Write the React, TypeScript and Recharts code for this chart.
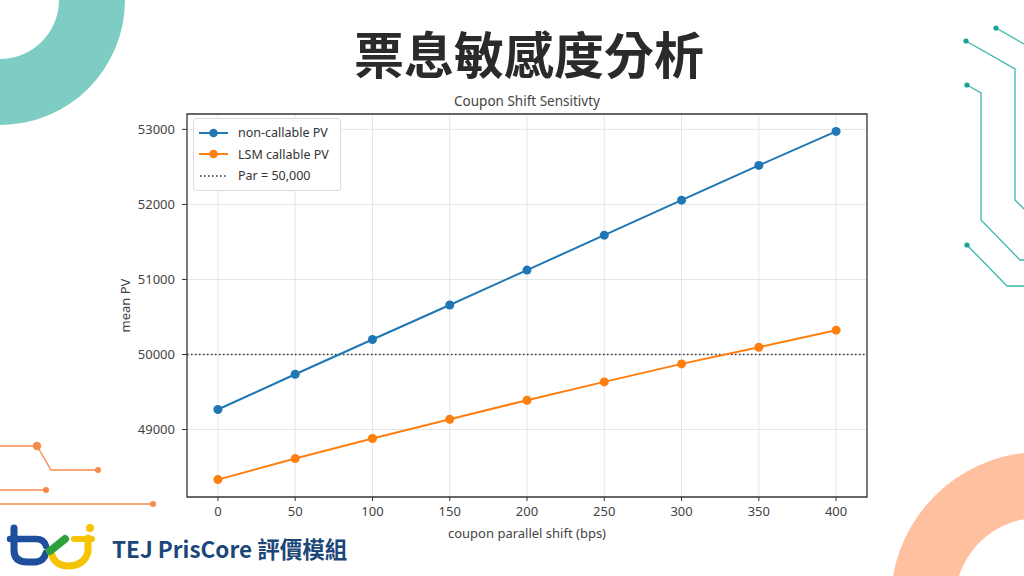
import React from 'react';
import { LineChart, Line, XAxis, YAxis, CartesianGrid, ReferenceLine, ReferenceArea, Legend } from 'recharts';

const shifts = [0, 50, 100, 150, 200, 250, 300, 350, 400];
const nonCallablePV = [49267, 49737, 50200, 50660, 51125, 51590, 52057, 52520, 52973];
const lsmCallablePV = [48333, 48613, 48880, 49137, 49391, 49635, 49875, 50097, 50324];
const parValue = 50000;

const xTicks = [0, 50, 100, 150, 200, 250, 300, 350, 400];
const yTicks = [49000, 50000, 51000, 52000, 53000];
const xDomain = [-20, 420];
const yDomain = [48101, 53205];

const BLUE = '#1f77b4';
const ORANGE = '#ff7f0e';
const FONT = '"Noto Sans", "Open Sans", sans-serif';
const CJK = '"Noto Sans CJK TC", "Noto Sans CJK SC", sans-serif';

const legendItems = [
  { name: 'non-callable PV', color: BLUE, dotted: false },
  { name: 'LSM callable PV', color: ORANGE, dotted: false },
  { name: 'Par = 50,000', color: '#333', dotted: true },
];

const data = shifts.map((s, i) => ({
  shift: s,
  nonCallable: nonCallablePV[i],
  lsmCallable: lsmCallablePV[i],
}));

const LegendBox = () => (
  <div
    style={{
      border: '1px solid #dcdcdc',
      borderRadius: 3,
      background: 'rgba(255,255,255,0.9)',
      padding: '3px 8px 3px 5px',
      fontFamily: FONT,
      fontSize: 12.5,
      color: '#333',
      width: 133,
    }}
  >
    {legendItems.map((item) => (
      <div key={item.name} style={{ display: 'flex', alignItems: 'center', height: 21.5 }}>
        <svg width={29} height={10} style={{ flex: 'none' }}>
          {item.dotted ? (
            <line x1={1} y1={5} x2={28} y2={5} stroke={item.color} strokeWidth={1.5} strokeDasharray="1.5 2.5" />
          ) : (
            <>
              <line x1={0} y1={5} x2={29} y2={5} stroke={item.color} strokeWidth={2} />
              <circle cx={14.5} cy={5} r={4.3} fill={item.color} />
            </>
          )}
        </svg>
        <span style={{ marginLeft: 10, whiteSpace: 'nowrap' }}>{item.name}</span>
      </div>
    ))}
  </div>
);

const Decorations = () => (
  <svg width={1024} height={576} style={{ position: 'absolute', left: 0, top: 0 }}>
    {/* teal ring top-left */}
    <path d="M 125 0 A 125 125 0 0 1 0 125 L 0 59 A 59 59 0 0 0 59 0 Z" fill="#7ecdc4" />
    {/* peach ring bottom-right */}
    <path
      d="M 1042 452 A 150 150 0 0 0 893 576 L 959 576 A 84 84 0 0 1 1042 518 Z"
      fill="#ffc09f"
    />
    {/* teal circuit lines */}
    <g stroke="#3bb8ab" strokeWidth={1.3} fill="none">
      <polyline points="996,28 1024,44" />
      <polyline points="966,41 1015,69 1015,200 1024,209" />
      <polyline points="967,85 981,93 981,220 1020,260 1024,260" />
      <polyline points="967,245 1007,286 1024,286" />
    </g>
    <g fill="#16a394">
      <circle cx={996} cy={28} r={2.6} />
      <circle cx={966} cy={41} r={2.6} />
      <circle cx={967} cy={85} r={2.6} />
      <circle cx={967} cy={245} r={2.6} />
    </g>
    {/* orange circuit lines */}
    <g stroke="#f7894a" strokeWidth={1.3} fill="none">
      <polyline points="0,446 37,446 51,470 98,470" />
      <polyline points="0,490 46,490" />
      <polyline points="0,504 153,504" />
    </g>
    <g fill="#f7894a">
      <circle cx={37} cy={446} r={4.2} />
      <circle cx={98} cy={470} r={3} />
      <circle cx={46} cy={490} r={3} />
      <circle cx={153} cy={504} r={3} />
    </g>
    {/* tej logo */}
    <g fill="none" strokeLinecap="round" strokeLinejoin="round">
      <path d="M 14 528 L 14 550 Q 14 562 27 562 L 36 562 Q 44 561 46 553" stroke="#1d4f9c" strokeWidth={7} />
      <path d="M 10 539 L 36 539 Q 44 539 46 546" stroke="#1d4f9c" strokeWidth={6.5} />
      <path d="M 51 553 Q 55 566 68 566 Q 84 566 88 552 L 88 538" stroke="#f5c300" strokeWidth={7} />
      <path d="M 74 539 L 92 539" stroke="#f5c300" strokeWidth={6} />
      <line x1={50} y1={551} x2={65} y2={539} stroke="#2ea23a" strokeWidth={8} />
    </g>
    <circle cx={90} cy={528} r={4} fill="#f5c300" />
  </svg>
);

export default function App() {
  return (
    <div
      style={{
        position: 'absolute',
        left: 0,
        top: 0,
        width: 1024,
        height: 576,
        background: '#ffffff',
        overflow: 'hidden',
      }}
    >
      <Decorations />
      <div
        style={{
          position: 'absolute',
          left: 0,
          top: 22,
          width: 1058,
          textAlign: 'center',
          fontFamily: CJK,
          fontWeight: 700,
          fontSize: 50,
          lineHeight: '60px',
          color: '#2a2a2a',
        }}
      >
        票息敏感度分析
      </div>
      <div
        style={{
          position: 'absolute',
          left: 0,
          top: 91,
          width: 1054,
          textAlign: 'center',
          fontFamily: FONT,
          fontSize: 13.5,
          lineHeight: '20px',
          color: '#444',
        }}
      >
        Coupon Shift Sensitivty
      </div>
      <div
        style={{
          position: 'absolute',
          left: 112,
          top: 533,
          fontFamily: CJK,
          fontWeight: 700,
          fontSize: 22.5,
          lineHeight: '30px',
          color: '#1b4678',
          whiteSpace: 'nowrap',
        }}
      >
        TEJ PrisCore 評價模組
      </div>
      <div style={{ position: 'absolute', left: 0, top: 0 }}>
        <LineChart
          width={1024}
          height={576}
          data={data}
          margin={{ top: 114, right: 157, bottom: 49, left: 127 }}
        >
          <CartesianGrid stroke="#e6e6e6" strokeWidth={1} />
          <XAxis
            dataKey="shift"
            type="number"
            domain={xDomain}
            ticks={xTicks}
            height={30}
            axisLine={false}
            tickLine={{ stroke: '#333' }}
            tickSize={4}
            tickMargin={6}
            tick={{ fill: '#444', fontSize: 13, fontFamily: FONT }}
            label={{
              value: 'coupon parallel shift (bps)',
              position: 'insideBottom',
              offset: -11,
              fill: '#444',
              fontSize: 13,
              fontFamily: FONT,
            }}
          />
          <YAxis
            type="number"
            domain={yDomain}
            ticks={yTicks}
            width={60}
            axisLine={false}
            tickLine={{ stroke: '#333' }}
            tickSize={5}
            tickMargin={7}
            tick={{ fill: '#444', fontSize: 13, fontFamily: FONT }}
            allowDataOverflow
            label={{
              value: 'mean PV',
              angle: -90,
              position: 'insideLeft',
              offset: -2,
              fill: '#444',
              fontSize: 13,
              fontFamily: FONT,
              style: { textAnchor: 'middle' },
            }}
          />
          <ReferenceLine
            y={parValue}
            stroke="#333"
            strokeWidth={1.5}
            strokeDasharray="1.5 2.5"
          />
          <Line
            dataKey="nonCallable"
            name="non-callable PV"
            stroke={BLUE}
            strokeWidth={2}
            dot={{ r: 4.5, fill: BLUE, stroke: BLUE, strokeWidth: 0 }}
            activeDot={false}
            isAnimationActive={false}
          />
          <Line
            dataKey="lsmCallable"
            name="LSM callable PV"
            stroke={ORANGE}
            strokeWidth={2}
            dot={{ r: 4.5, fill: ORANGE, stroke: ORANGE, strokeWidth: 0 }}
            activeDot={false}
            isAnimationActive={false}
          />
          <ReferenceArea
            x1={xDomain[0]}
            x2={xDomain[1]}
            y1={yDomain[0]}
            y2={yDomain[1]}
            fill="none"
            stroke="#3a3a3a"
            strokeWidth={1.3}
            ifOverflow="visible"
          />
          <Legend
            layout="vertical"
            align="center"
            verticalAlign="middle"
            content={<LegendBox />}
            wrapperStyle={{ left: 193, top: 118, width: 'auto' }}
          />
        </LineChart>
      </div>
    </div>
  );
}
